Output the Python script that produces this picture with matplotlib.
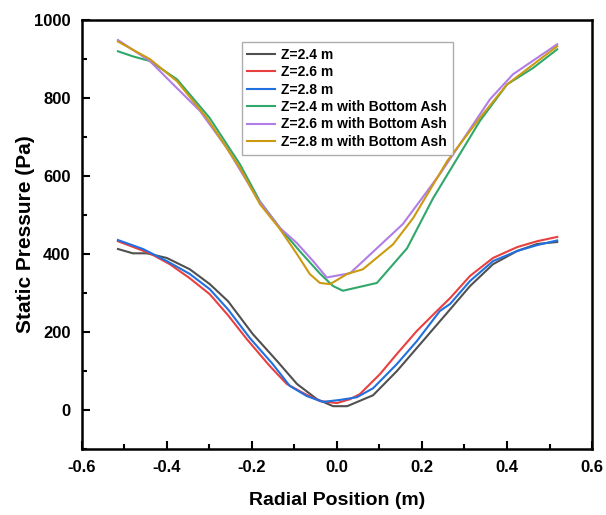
import numpy as np
from matplotlib import pyplot as plt
from matplotlib.ticker import MultipleLocator

plt.rcParams['font.family'] = ['Liberation Sans', 'DejaVu Sans']
plt.rcParams['font.weight'] = 'bold'

# Z=2.4 m
x_24 = [-0.515, -0.48, -0.447, -0.40, -0.346, -0.299, -0.256, -0.198, -0.141, -0.094, -0.047, -0.009, 0.024, 0.085, 0.141, 0.202, 0.266, 0.313, 0.367, 0.424, 0.471, 0.518]
p_24 = [413, 402, 402, 390, 361, 323, 279, 195, 126, 67, 28, 10, 10, 38, 100, 177, 258, 318, 374, 408, 426, 431]
# Z=2.6 m
x_26 = [-0.515, -0.44, -0.393, -0.346, -0.299, -0.256, -0.212, -0.158, -0.118, -0.08, -0.04, 0.0, 0.031, 0.054, 0.101, 0.141, 0.188, 0.235, 0.266, 0.313, 0.367, 0.424, 0.471, 0.518]
p_26 = [433, 402, 374, 338, 297, 243, 182, 113, 67, 44, 23, 18, 28, 41, 92, 144, 203, 254, 287, 344, 390, 418, 433, 444]
# Z=2.8 m
x_28 = [-0.515, -0.456, -0.40, -0.346, -0.299, -0.256, -0.205, -0.151, -0.111, -0.071, -0.033, 0.007, 0.047, 0.085, 0.141, 0.188, 0.242, 0.266, 0.313, 0.367, 0.424, 0.471, 0.518]
p_28 = [436, 413, 382, 349, 310, 258, 185, 118, 62, 36, 21, 26, 33, 56, 118, 177, 254, 272, 331, 382, 408, 423, 435]
# with Bottom Ash
x_24a = [-0.515, -0.48, -0.44, -0.376, -0.30, -0.228, -0.181, -0.134, -0.087, -0.04, -0.009, 0.014, 0.094, 0.165, 0.226, 0.336, 0.40, 0.461, 0.518]
p_24a = [920, 907, 895, 848, 750, 630, 535, 467, 407, 350, 318, 306, 326, 415, 543, 741, 835, 877, 925]
x_26a = [-0.515, -0.44, -0.386, -0.322, -0.259, -0.188, -0.134, -0.094, -0.056, -0.024, 0.031, 0.155, 0.242, 0.36, 0.414, 0.518]
p_26a = [949, 895, 836, 767, 672, 544, 467, 428, 382, 340, 351, 477, 605, 797, 861, 938]
x_28a = [-0.515, -0.44, -0.376, -0.306, -0.228, -0.181, -0.134, -0.094, -0.064, -0.04, -0.016, 0.024, 0.061, 0.132, 0.179, 0.259, 0.336, 0.40, 0.518]
p_28a = [945, 900, 843, 749, 621, 528, 464, 400, 349, 326, 323, 349, 361, 425, 492, 638, 749, 835, 933]

series = [
    (x_24, p_24, '#505050', 'Z=2.4 m'),
    (x_26, p_26, '#e8403f', 'Z=2.6 m'),
    (x_28, p_28, '#2070df', 'Z=2.8 m'),
    (x_24a, p_24a, '#2fa86a', 'Z=2.4 m with Bottom Ash'),
    (x_26a, p_26a, '#b07ee6', 'Z=2.6 m with Bottom Ash'),
    (x_28a, p_28a, '#cc9a10', 'Z=2.8 m with Bottom Ash'),
]

fig = plt.figure(figsize=(6.06, 5.15), dpi=100)
ax = fig.add_axes([0.135, 0.128, 0.842, 0.833])
for x, p, c, lab in series:
    ax.plot(x, p, color=c, linewidth=1.5, label=lab)

ax.set_xlim(-0.6, 0.6)
ax.set_ylim(-100, 1000)
ax.xaxis.set_minor_locator(MultipleLocator(0.1))
ax.yaxis.set_major_locator(MultipleLocator(200))
ax.yaxis.set_minor_locator(MultipleLocator(100))
ax.set_xticks(np.arange(-0.6, 0.61, 0.2))
ax.set_xticklabels(['-0.6', '-0.4', '-0.2', '0.0', '0.2', '0.4', '0.6'])
ax.tick_params(which='major', direction='in', length=6, width=1.5, labelsize=12, pad=8)
ax.tick_params(which='minor', direction='in', length=3.5, width=1.5)
for s in ax.spines.values():
    s.set_linewidth(1.8)
for t in ax.get_xticklabels() + ax.get_yticklabels():
    t.set_fontweight('bold')

ax.set_xlabel('Radial Position (m)', fontsize=14, fontweight='bold', labelpad=12)
ax.set_ylabel('Static Pressure (Pa)', fontsize=15, fontweight='bold', labelpad=-1)

leg = ax.legend(loc='upper left', bbox_to_anchor=(0.30, 0.965), fancybox=False,
                edgecolor='#999999', handlelength=2.0, borderpad=0.4,
                labelspacing=0.25, handletextpad=0.45,
                prop={'weight': 'bold', 'size': 10})
leg.get_frame().set_linewidth(1.0)

plt.savefig('out.png', dpi=100)
